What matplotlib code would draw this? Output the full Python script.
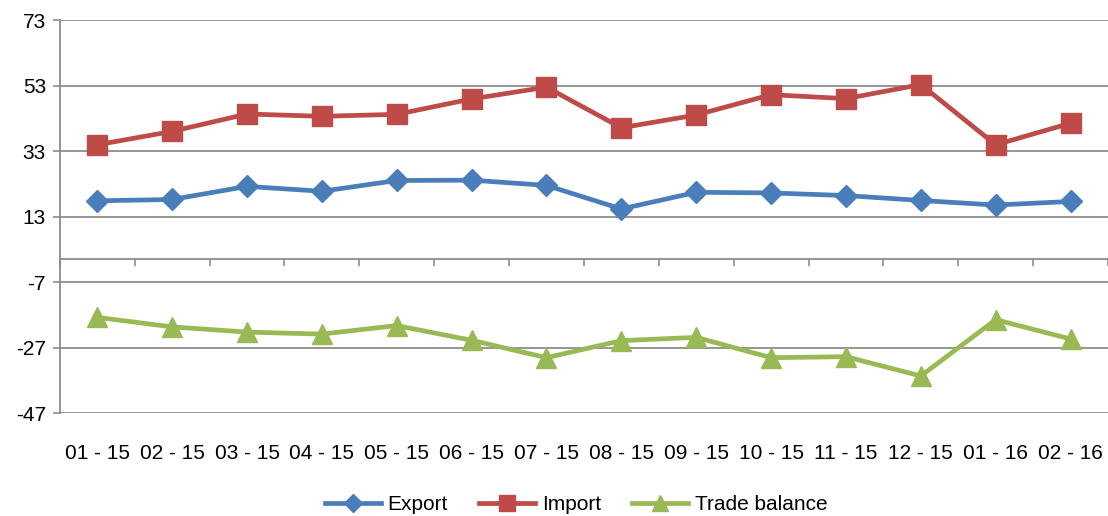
import matplotlib
matplotlib.use("Agg")
import matplotlib.pyplot as plt
from matplotlib.ticker import FixedLocator
import numpy as np

plt.rcParams['font.family'] = ['Liberation Sans', 'DejaVu Sans']

# data
months = ['01 - 15', '02 - 15', '03 - 15', '04 - 15', '05 - 15', '06 - 15', '07 - 15',
          '08 - 15', '09 - 15', '10 - 15', '11 - 15', '12 - 15', '01 - 16', '02 - 16']
export = [17.8, 18.2, 22.2, 20.7, 24.0, 24.1, 22.5, 15.3, 20.4, 20.2, 19.4, 17.9, 16.5, 17.6]
imports = [34.9, 39.0, 44.3, 43.6, 44.2, 48.9, 52.5, 40.1, 44.0, 50.2, 49.0, 53.3, 34.9, 41.5]
balance = [-17.8, -20.7, -22.3, -22.9, -20.3, -24.8, -30.1, -24.9, -23.9, -30.1, -29.8, -35.7, -18.5, -24.4]
yticks = [73, 53, 33, 13, -7, -27, -47]

grey = '#8c8c8c'
fs = 15

fig = plt.figure(figsize=(11.08, 5.16), dpi=100)
ax = fig.add_axes([0.054, 0.1996, 0.946, 0.7616])

# horizontal axis line at zero (set first, moving a spine resets ticks)
ax.spines['top'].set_position(('data', 0))
ax.spines['top'].set_color(grey)
ax.spines['top'].set_linewidth(1.3)
ax.spines['bottom'].set_visible(False)
ax.spines['right'].set_visible(False)
ax.spines['left'].set_color(grey)
ax.spines['left'].set_linewidth(1.3)

x = np.arange(len(months))
ax.plot(x, export, color='#4a7ebb', lw=3.4, marker='D', ms=11, label='Export', zorder=3)
ax.plot(x, imports, color='#be4b48', lw=3.4, marker='s', ms=14, label='Import', zorder=3)
ax.plot(x, balance, color='#98b954', lw=3.4, marker='^', ms=14, label='Trade balance', zorder=3)

ax.set_xlim(-0.5, len(months) - 0.5)
ax.set_ylim(-47, 73)
ax.set_yticks(yticks)
ax.set_yticklabels([str(v) for v in yticks])
ax.yaxis.grid(True, color=grey, lw=1.3)
ax.set_axisbelow(True)

# category labels below the plot, no tick marks
ax.set_xticks(x)
ax.set_xticklabels(months)
ax.tick_params(axis='x', which='major', length=0, pad=22, labelsize=fs,
               bottom=True, top=False, labelbottom=True, labeltop=False)
ax.tick_params(axis='y', length=5, color=grey, width=1.2, pad=5, labelsize=fs)

# tick marks between categories on the zero line
ax.xaxis.set_minor_locator(FixedLocator(np.arange(-0.5, len(months), 1.0)))
ax.tick_params(axis='x', which='minor', top=True, bottom=False, direction='in',
               length=5, color=grey, width=1.2)

fig.legend(loc='center', bbox_to_anchor=(0.52, 0.022), ncol=3, frameon=False,
           fontsize=fs, handlelength=2.7, handletextpad=0.3, columnspacing=1.5,
           markerscale=0.8)

fig.savefig('out.png', dpi=100)
